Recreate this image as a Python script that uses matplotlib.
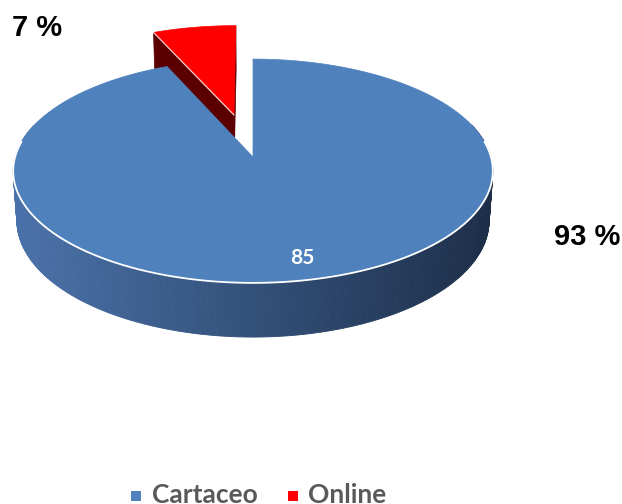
import numpy as np
import matplotlib.pyplot as plt
from matplotlib.patches import Polygon, Rectangle

# chart data
labels = ['Cartaceo', 'Online']
values = [85, 6]
explode = [0.0, 0.41]
top_colors = ['#4f81bd', '#ff0000']
pct_text = ['93 %', '7 %']

# camera / layout of the 3-D pie (pixels)
CX, CY = 253, 157          # projected pie centre
F, D = 1687.0, 7.09        # focal length, camera distance (pie radius = 1)
PHI = np.arcsin(0.463)     # elevation
H = 0.238                  # thickness of the pie


def project(x, y, z):
    """Perspective projection of pie space to figure pixels (y grows away from viewer)."""
    x, y, z = np.broadcast_arrays(np.asarray(x, float), np.asarray(y, float), np.asarray(z, float))
    v = y * np.sin(PHI) + z * np.cos(PHI)
    w = y * np.cos(PHI) - z * np.sin(PHI)
    s = F / (D + w)
    return CX + x * s, CY - v * s


def mix(c1, c2, t):
    c1, c2 = np.array(c1) / 255, np.array(c2) / 255
    return tuple(c1 + (c2 - c1) * t)


fig = plt.figure(figsize=(6.22, 5.04), dpi=100)
ax = fig.add_axes([0, 0, 1, 1])
ax.set_xlim(0, 622)
ax.set_ylim(504, 0)
ax.axis('off')

total = sum(values)
bounds = 90 - 360 * np.concatenate([[0], np.cumsum(values)]) / total

# slices drawn back to front: Online (behind) first, then Cartaceo
for i in [1, 0]:
    a0, a1 = np.radians(bounds[i]), np.radians(bounds[i + 1])
    mid = (a0 + a1) / 2
    ox, oy = explode[i] * np.cos(mid), explode[i] * np.sin(mid)
    th = np.linspace(a0, a1, 400)
    rx, ry = ox + np.cos(th), oy + np.sin(th)

    if i == 0:
        # outer wall, shaded from left to right
        for k in range(len(th) - 1):
            if np.sin((th[k] + th[k + 1]) / 2) > 0.3:
                continue
            xs = [rx[k], rx[k + 1], rx[k + 1], rx[k]]
            ys = [ry[k], ry[k + 1], ry[k + 1], ry[k]]
            zs = [0, 0, -H, -H]
            px, py = project(xs, ys, zs)
            t = np.clip((px.mean() - 15) / 476, 0, 1)
            col = mix((74, 114, 170), (28, 46, 72), t)
            ax.add_patch(Polygon(np.c_[px, py], closed=True, fc=col, ec=col, lw=0.6))
    else:
        # radial walls of the exploded slice
        for a, col in [(a1, '#5a0000'), (a0, '#5a0000')]:
            xs = [ox, ox + np.cos(a), ox + np.cos(a), ox]
            ys = [oy, oy + np.sin(a), oy + np.sin(a), oy]
            zs = [0, 0, -H, -H]
            px, py = project(xs, ys, zs)
            ax.add_patch(Polygon(np.c_[px, py], closed=True, fc=col, ec=col, lw=0.5))

    # top face
    tx = np.concatenate([[ox], rx])
    ty = np.concatenate([[oy], ry])
    px, py = project(tx, ty, 0)
    ax.add_patch(Polygon(np.c_[px, py], closed=True, fc=top_colors[i], ec=top_colors[i], lw=0.5))

    if i == 1:
        ex, ey = project([ox, ox + np.cos(a0)], [oy, oy + np.sin(a0)], 0)
        ax.plot(ex, ey, color='white', lw=0.9, alpha=0.8)

# light rim along the front edge of the top face
th = np.radians(np.linspace(172, 368, 300))
px, py = project(np.cos(th), np.sin(th), 0)
ax.plot(px, py, color='white', lw=1.3)

# data label on the big slice
ax.text(302, 258, str(values[0]), color='white', fontsize=15, fontweight='bold',
        family='Lato', ha='center', va='center')

# percentage labels
ax.text(554, 237, pct_text[0], fontsize=21, fontweight='bold', family='Liberation Sans',
        ha='left', va='center')
ax.text(12, 28, pct_text[1], fontsize=21, fontweight='bold', family='Liberation Sans',
        ha='left', va='center')

# legend
for lx, tx_, lab, col in [(131, 152, labels[0], top_colors[0]), (288, 308, labels[1], top_colors[1])]:
    ax.add_patch(Rectangle((lx, 491), 10, 10, fc=col, ec='none'))
    ax.text(tx_, 503, lab, color='#595959', fontsize=19, fontweight='bold', family='Lato',
            ha='left', va='baseline')

fig.savefig('out.png', dpi=100)
